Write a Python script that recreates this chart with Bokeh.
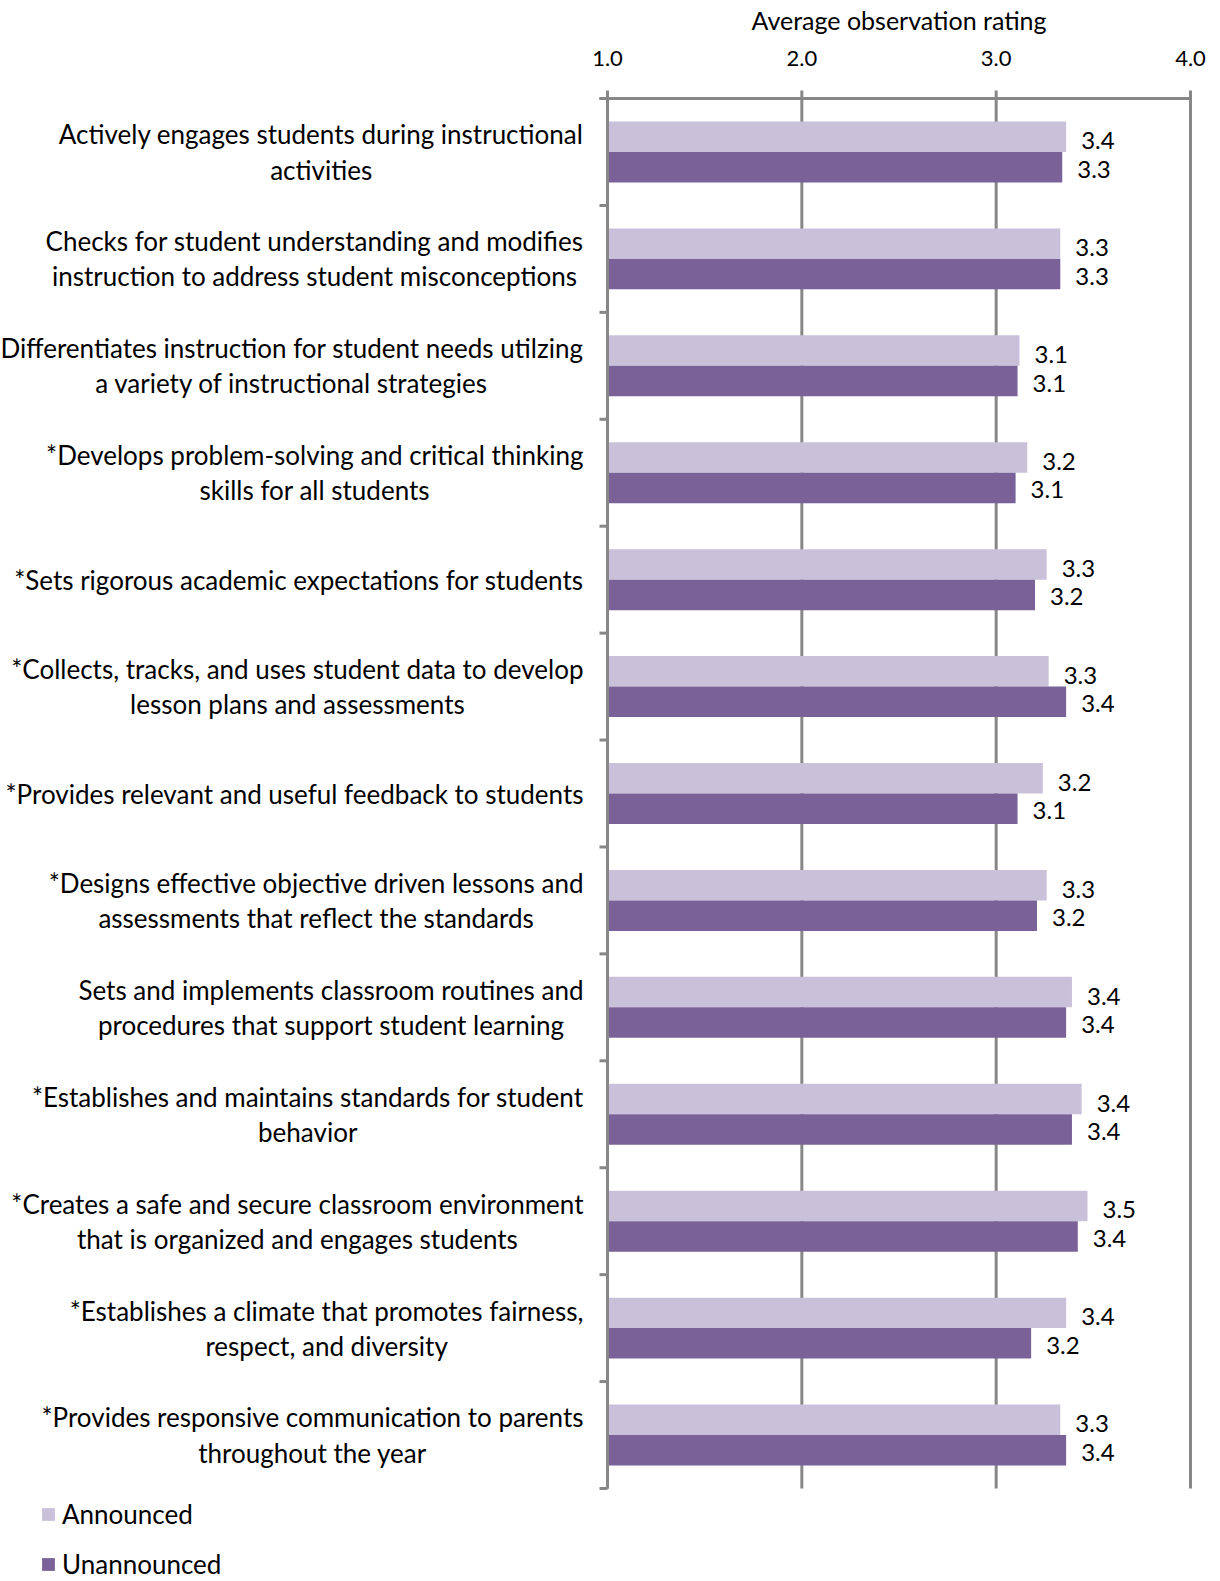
from bokeh.plotting import figure
from bokeh.models import Range1d, Legend, LegendItem, ColumnDataSource
from bokeh.core.properties import value
from bokeh.embed import file_html
from bokeh.resources import INLINE

categories = [
    "Actively engages students during instructional\nactivities",
    "Checks for student understanding and modifies\ninstruction to address student misconceptions",
    "Differentiates instruction for student needs utilzing\na variety of instructional strategies",
    "*Develops problem-solving and critical thinking\nskills for all students",
    "*Sets rigorous academic expectations for students",
    "*Collects, tracks, and uses student data to develop\nlesson plans and assessments",
    "*Provides relevant and useful feedback to students",
    "*Designs effective objective driven lessons and\nassessments that reflect the standards",
    "Sets and implements classroom routines and\nprocedures that support student learning",
    "*Establishes and maintains standards for student\nbehavior",
    "*Creates a safe and secure classroom environment\nthat is organized and engages students",
    "*Establishes a climate that promotes fairness,\nrespect, and diversity",
    "*Provides responsive communication to parents\nthroughout the year",
]
announced = [3.36, 3.33, 3.12, 3.16, 3.26, 3.27, 3.24, 3.26, 3.39, 3.44, 3.47, 3.36, 3.33]
unannounced = [3.34, 3.33, 3.11, 3.10, 3.20, 3.36, 3.11, 3.21, 3.36, 3.39, 3.42, 3.18, 3.36]
series_names = ["Announced", "Unannounced"]
x_ticks = [1.0, 2.0, 3.0, 4.0]
x_tick_labels = ["1.0", "2.0", "3.0", "4.0"]
axis_title = "Average observation rating"

FONT = "Lato"
GREY = "#878787"
C_ANN = "#C9C0DA"
C_UNANN = "#7A6299"

# page layout in pixels
W, H = 1220, 1581
PL, PR, PT, PB = 607, 1190, 98, 1488
XMIN, XMAX = x_ticks[0], x_ticks[-1]
n = len(categories)
UX = (PR - PL) / (XMAX - XMIN)
UY = (PB - PT) / n


def dx(px):
    return px / UX


def dy(px):
    return px / UY


p = figure(width=W, height=H, output_backend="svg", toolbar_location=None,
           x_range=Range1d(XMIN - dx(PL), XMAX + dx(W - PR)),
           y_range=Range1d(n + dy(H - PB), -dy(PT)),
           x_axis_location=None, y_axis_location=None,
           min_border=0)
p.outline_line_color = None
p.grid.visible = False
p.background_fill_color = "white"
p.border_fill_color = "white"

BAR_H = 0.285
y_center = [i + 0.5 for i in range(n)]
src_a = ColumnDataSource(dict(y=[c - BAR_H / 2 for c in y_center], right=announced,
                              lab=[f"{v:.1f}" for v in announced]))
src_u = ColumnDataSource(dict(y=[c + BAR_H / 2 for c in y_center], right=unannounced,
                              lab=[f"{v:.1f}" for v in unannounced]))

# gridlines (with the tick marks above the top axis)
p.segment(x0=x_ticks, x1=x_ticks, y0=[-dy(8)] * len(x_ticks), y1=[n] * len(x_ticks),
          line_color=GREY, line_width=3)

r_a = p.hbar(y="y", left=XMIN, right="right", height=BAR_H, source=src_a,
             fill_color=C_ANN, line_color=None)
r_u = p.hbar(y="y", left=XMIN, right="right", height=BAR_H, source=src_u,
             fill_color=C_UNANN, line_color=None)

# axes lines and category separators
p.segment(x0=[XMIN - dx(8), XMIN], x1=[XMAX, XMIN], y0=[0, 0], y1=[0, n],
          line_color=GREY, line_width=3)
sep = list(range(n + 1))
p.segment(x0=[XMIN - dx(8)] * len(sep), x1=[XMIN] * len(sep), y0=sep, y1=sep,
          line_color=GREY, line_width=3)

# value labels
p.text(x="right", y="y", text="lab", source=src_a, x_offset=15, y_offset=4,
       text_font=value(FONT), text_font_size="24px", text_baseline="middle",
       text_align="left", text_color="black")
p.text(x="right", y="y", text="lab", source=src_u, x_offset=15, y_offset=2,
       text_font=value(FONT), text_font_size="24px", text_baseline="middle",
       text_align="left", text_color="black")

# tick labels and axis title
p.text(x=x_ticks, y=[-dy(40)] * len(x_ticks), text=x_tick_labels,
       text_font=value(FONT), text_font_size="22px", text_align="center",
       text_baseline="middle", text_color="black")
p.text(x=[(XMIN + XMAX) / 2], y=[-dy(79)], text=[axis_title],
       text_font=value(FONT), text_font_size="25px", text_align="center",
       text_baseline="middle", text_color="black")

# category labels
p.text(x=[XMIN - dx(24)] * n, y=y_center, text=categories,
       text_font=value(FONT), text_font_size="26px", text_align="center",
       text_baseline="middle", anchor="center_right", text_line_height=1.1,
       text_color="black")

legend = Legend(items=[LegendItem(label=series_names[0], renderers=[r_a]),
                       LegendItem(label=series_names[1], renderers=[r_u])],
                location=(40, 1), orientation="vertical",
                glyph_width=16, glyph_height=16, label_height=30,
                label_text_font=FONT, label_text_font_size="26px",
                label_text_color="black",
                label_standoff=6, spacing=18, padding=0, margin=0,
                border_line_color=None, background_fill_alpha=0)
p.add_layout(legend)

open("out.html", "w").write(file_html(p, INLINE))
